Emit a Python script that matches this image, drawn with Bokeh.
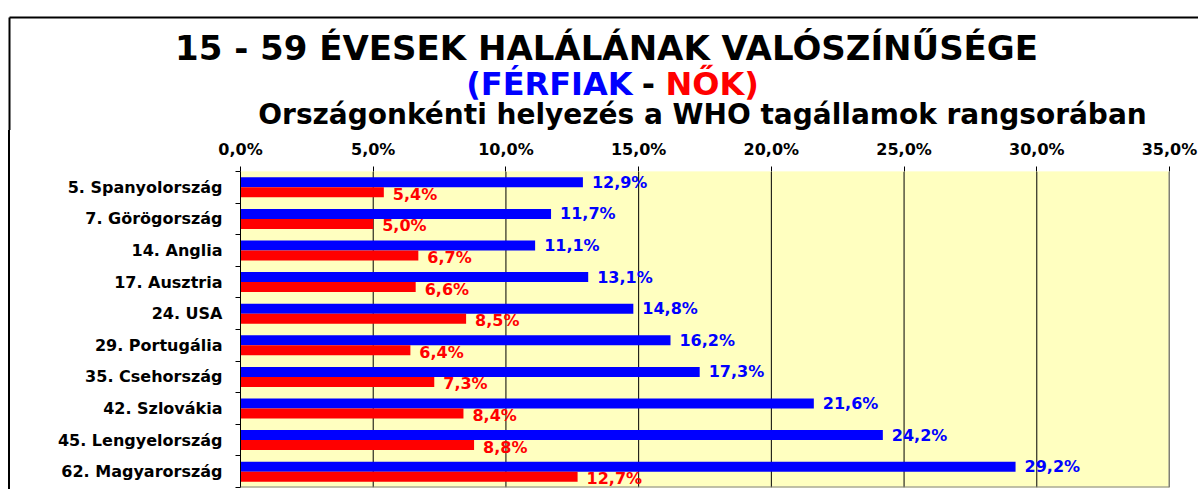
from bokeh.plotting import figure
from bokeh.layouts import column, row
from bokeh.models import (Range1d, FixedTicker, Label, LabelSet, Span, BoxAnnotation,
                          ColumnDataSource, Div)
from bokeh.transform import dodge
from bokeh.core.properties import value
from bokeh.embed import file_html
from bokeh.resources import INLINE

countries = ["5. Spanyolország", "7. Görögország", "14. Anglia", "17. Ausztria", "24. USA",
             "29. Portugália", "35. Csehország", "42. Szlovákia", "45. Lengyelország",
             "62. Magyarország"]
men = [12.9, 11.7, 11.1, 13.1, 14.8, 16.2, 17.3, 21.6, 24.2, 29.2]
women = [5.4, 5.0, 6.7, 6.6, 8.5, 6.4, 7.3, 8.4, 8.8, 12.7]
x_ticks = [0, 5, 10, 15, 20, 25, 30, 35]
x_tick_labels = ["0,0%", "5,0%", "10,0%", "15,0%", "20,0%", "25,0%", "30,0%", "35,0%"]
title_1 = "15 - 59 ÉVESEK HALÁLÁNAK VALÓSZÍNŰSÉGE"
title_2_men = "(FÉRFIAK"
title_2_sep = "-"
title_2_women = "NŐK)"
title_3 = "Országonkénti helyezés a WHO tagállamok rangsorában"

BLUE = "#0000FF"
RED = "#FF0000"
PLOT_BG = "#FFFFC0"
FONT = "DejaVu Sans"

W, H = 1198, 489
HEAD_H = 130          # header (titles) height
STRIP_W = 10          # left strip carrying the chart border line
MAIN_W = W - STRIP_W
MAIN_H = H - HEAD_H
FRAME_L, FRAME_R, FRAME_T, FRAME_B = 240, 1169, 171, 487
n = len(countries)

def fmt(v):
    return f"{v:.1f}".replace(".", ",") + "%"

source = ColumnDataSource(dict(
    y=list(range(n)), men=men, women=women,
    men_lbl=[fmt(v) for v in men], women_lbl=[fmt(v) for v in women],
))

# ---------------- header with titles ----------------
head = figure(width=W, height=HEAD_H, x_range=Range1d(0, W), y_range=Range1d(HEAD_H, 0),
              x_axis_type=None, y_axis_type=None, output_backend="svg", toolbar_location=None,
              min_border=0, min_border_left=0, min_border_right=0, min_border_top=0,
              min_border_bottom=0)
head.outline_line_color = None
head.background_fill_color = "white"
head.border_fill_color = "white"
head.xgrid.visible = False
head.ygrid.visible = False
head.segment(x0=[9, 9], y0=[17, 17], x1=[W, 9], y1=[17, HEAD_H], line_color="black", line_width=2)

def lab(text, x, y, size, color="black", align="center"):
    head.add_layout(Label(x=x, y=y, text=text, text_align=align, text_baseline="middle",
                         text_font=FONT, text_font_style="bold", text_font_size=size,
                         text_color=color))

lab(title_1, 606, 47, "34px")
lab(title_2_men, 632, 83, "32px", BLUE, "right")
lab(title_2_sep, 648, 83, "32px", "black", "center")
lab(title_2_women, 665, 83, "32px", RED, "left")
lab(title_3, 702, 114, "28px")

# ---------------- left strip with border line ----------------
strip = Div(text='<div style="margin:0 0 0 8px;padding:0;width:2px;height:%dpx;'
                 'background:#000000;"></div>' % MAIN_H,
            width=STRIP_W, height=MAIN_H, margin=(0, 0, 0, 0))

# ---------------- main chart ----------------
p = figure(width=MAIN_W, height=MAIN_H, x_range=Range1d(0, 35), y_range=Range1d(n - 0.5, -0.5),
           x_axis_location="above", output_backend="svg", toolbar_location=None,
           min_border_left=FRAME_L - STRIP_W, min_border_right=W - FRAME_R,
           min_border_top=FRAME_T - HEAD_H, min_border_bottom=H - FRAME_B)
p.background_fill_color = PLOT_BG
p.border_fill_color = "white"
p.outline_line_color = None
p.xgrid.visible = False
p.ygrid.visible = False
# plot-area fill and vertical gridlines, painted under the bars
p.add_layout(BoxAnnotation(fill_color=PLOT_BG, fill_alpha=1.0, line_color=None, level="underlay"))
for t in x_ticks[1:]:
    p.add_layout(Span(location=t, dimension="height", line_color="black", line_width=1,
                      level="underlay"))

xa = p.xaxis[0]
xa.ticker = FixedTicker(ticks=x_ticks)
xa.major_label_overrides = dict(zip(x_ticks, x_tick_labels))
xa.axis_line_color = None
xa.major_tick_line_color = "black"
xa.major_tick_out = 5
xa.major_tick_in = 0
xa.minor_tick_line_color = None
xa.major_label_standoff = 8
xa.major_label_text_font = FONT
xa.major_label_text_font_style = "bold"
xa.major_label_text_font_size = "16px"
xa.major_label_text_color = "black"

ya = p.yaxis[0]
ya.ticker = FixedTicker(ticks=list(range(n)), minor_ticks=[i - 0.5 for i in range(n + 1)])
ya.major_label_overrides = {i: c for i, c in enumerate(countries)}
ya.axis_line_color = "black"
ya.major_tick_line_color = None
ya.major_tick_out = 5
ya.major_tick_in = 0
ya.minor_tick_line_color = "black"
ya.minor_tick_out = 5
ya.minor_tick_in = 0
ya.major_label_standoff = 13
ya.major_label_text_font = FONT
ya.major_label_text_font_style = "bold"
ya.major_label_text_font_size = "16px"
ya.major_label_text_color = "black"

off = 0.158
hgt = 0.316
p.hbar(y=dodge("y", -off), left=0, right="men", height=hgt, source=source,
       fill_color=BLUE, line_color=None)
p.hbar(y=dodge("y", off), left=0, right="women", height=hgt, source=source,
       fill_color=RED, line_color=None)

p.add_layout(LabelSet(x="men", y=dodge("y", -off), text="men_lbl", source=source, x_offset=9,
                      text_align="left", text_baseline="middle", text_color=BLUE,
                      text_font=value(FONT), text_font_style="bold", text_font_size="16px"))
p.add_layout(LabelSet(x="women", y=dodge("y", off), text="women_lbl", source=source,
                      x_offset=9, y_offset=-2,
                      text_align="left", text_baseline="middle", text_color=RED,
                      text_font=value(FONT), text_font_style="bold", text_font_size="16px"))

p.add_layout(Span(location=35, dimension="height", line_color="#808080", line_width=2))
p.add_layout(Span(location=n - 0.5, dimension="width", line_color="#808080", line_width=2))

layout = column(head, row(strip, p, spacing=0), spacing=0)

open("out.html", "w").write(file_html(layout, INLINE))
